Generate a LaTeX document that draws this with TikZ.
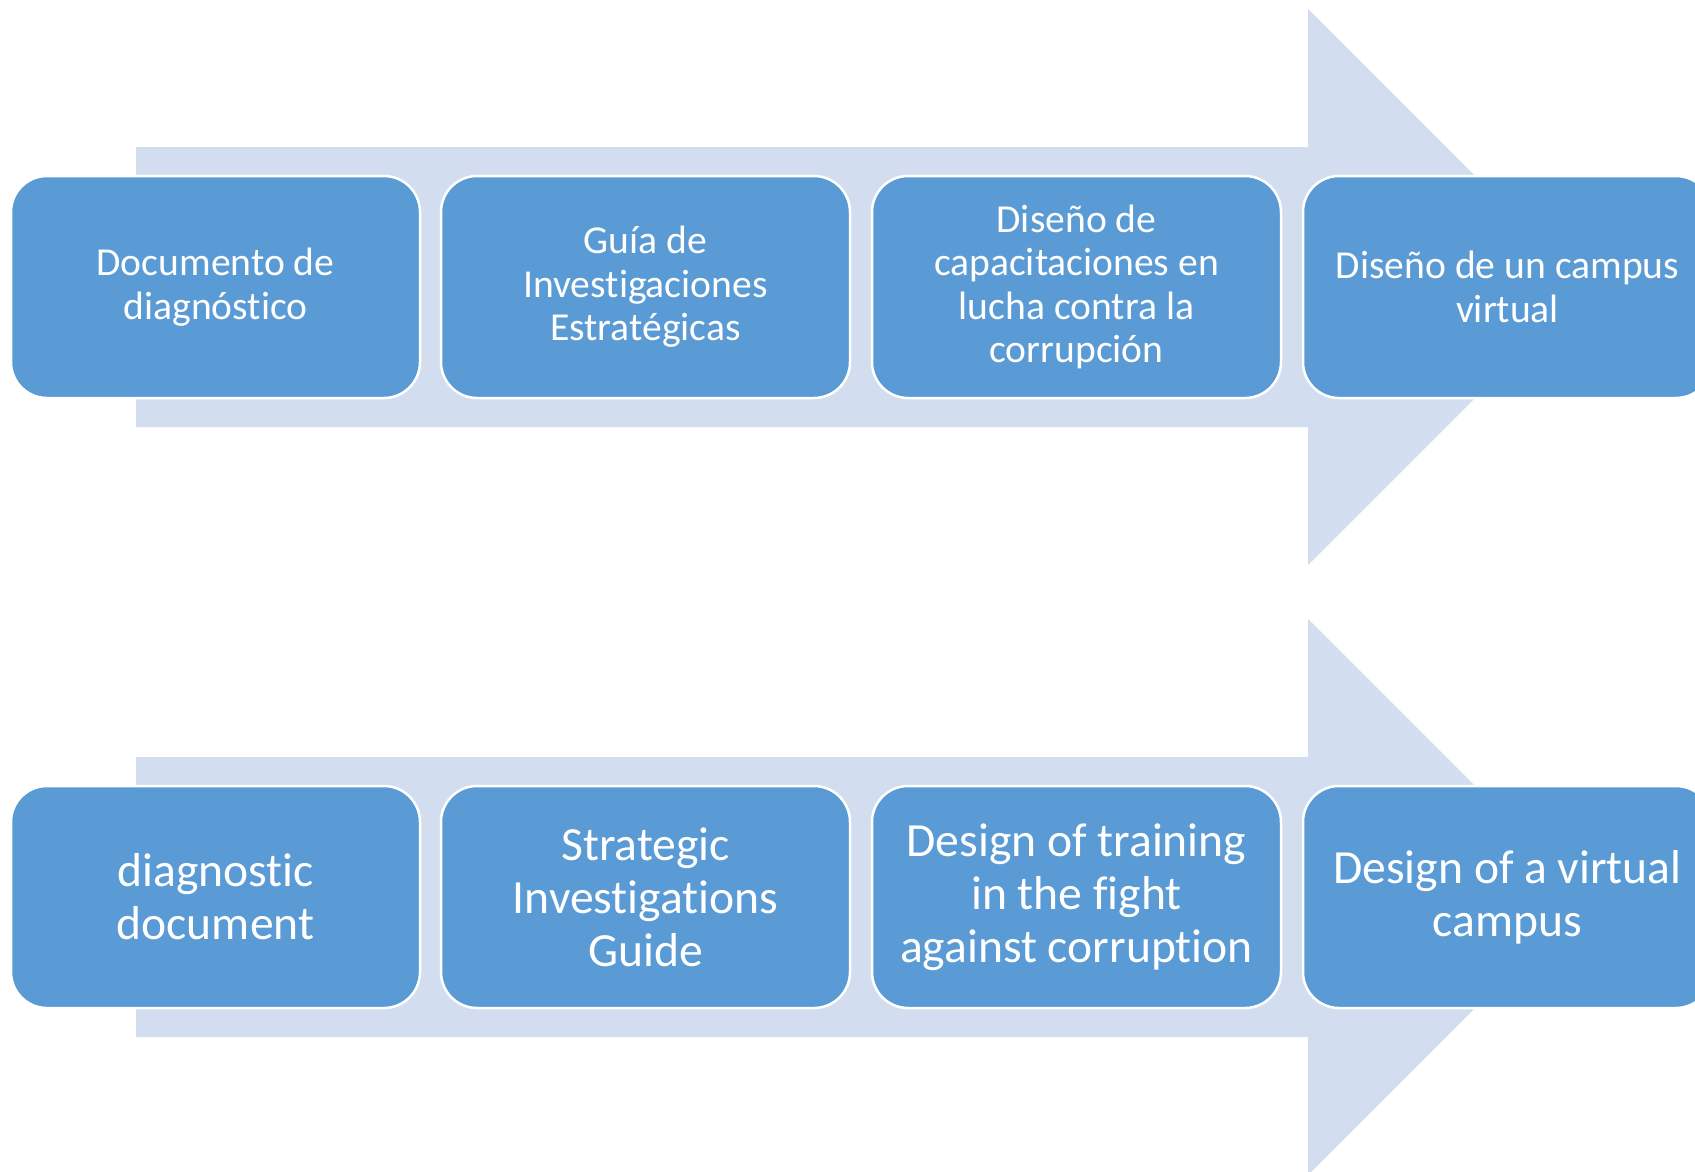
\documentclass[tikz,border=0pt]{standalone}
\usepackage{fontspec}
\setmainfont{Carlito}[Ligatures=NoCommon]
\definecolor{boxblue}{HTML}{5B9BD5}
\definecolor{arrowblue}{HTML}{D2DEEF}
\begin{document}
\begin{tikzpicture}[x=1pt,y=-1pt,
  stepbox/.style={draw=white, line width=2.5pt, fill=boxblue, rounded corners=36pt,
    minimum width=409pt, minimum height=222pt, text=white, align=center, inner sep=0pt},
  smalltext/.style={font=\fontsize{39.6}{43.5}\selectfont},
  bigtext/.style={font=\fontsize{47.6}{53}\selectfont},
  bigarrow/.style={fill=arrowblue}]
\useasboundingbox (0,0) rectangle (1695,1171);
\clip (0,0) rectangle (1695,1171);
\fill[white] (0,0) rectangle (1695,1171);
\foreach \dy in {0,610} {
  \fill[bigarrow] (136,{147+\dy}) -- (1308,{147+\dy}) -- (1308,{9+\dy}) -- (1586,{287+\dy})
    -- (1308,{565+\dy}) -- (1308,{427+\dy}) -- (136,{427+\dy}) -- cycle;
}
\node[stepbox,smalltext] (a1) at (215.5,287) {Documento de\\diagnóstico};
\node[stepbox,smalltext] (a2) at (645.5,287) {Guía de\\Investigaciones\\Estratégicas};
\node[stepbox,smalltext] (a3) at (1076.5,287) {Diseño de\\capacitaciones en\\lucha contra la\\corrupción};
\node[stepbox,smalltext] (a4) at (1507.5,287) {Diseño de un campus\\virtual};
\node[stepbox,bigtext] (b1) at (215.5,897) {diagnostic\\document};
\node[stepbox,bigtext] (b2) at (645.5,897) {Strategic\\Investigations\\Guide};
\node[stepbox,bigtext] (b3) at (1076.5,897) {Design of training\\in the fight\\against corruption};
\node[stepbox,bigtext] (b4) at (1507.5,897) {Design of a virtual\\campus};
\end{tikzpicture}
\end{document}
